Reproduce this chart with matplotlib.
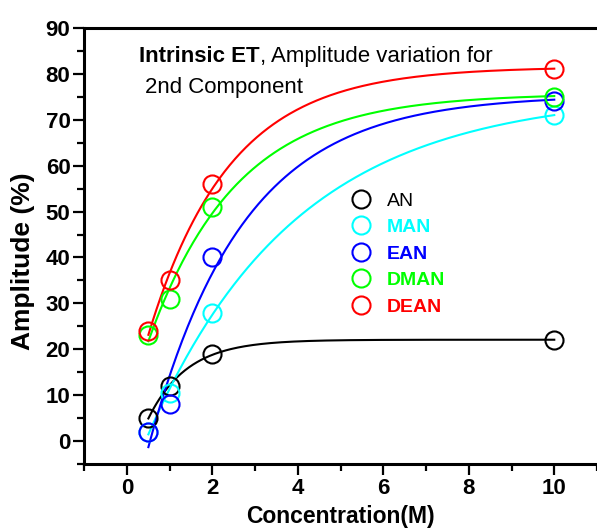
import numpy as np
import matplotlib
matplotlib.use("Agg")
import matplotlib.pyplot as plt

# data
conc = [0.5, 1, 2, 10]
amp_an = [5, 12, 19, 22]
amp_man = [2, 10.5, 28, 71]
amp_ean = [2, 8, 40, 74]
amp_dman = [23, 31, 51, 75]
amp_dean = [24, 35, 56, 81]

names = ["AN", "MAN", "EAN", "DMAN", "DEAN"]
colors = ["#000000", "#00ffff", "#0000ff", "#00ff00", "#ff0000"]
series = [amp_an, amp_man, amp_ean, amp_dman, amp_dean]


def fit_expdec(x, y):
    # y = A - B*exp(-k*x), grid over k, linear least squares for A, B
    x = np.asarray(x, float)
    y = np.asarray(y, float)
    best = None
    for k in np.linspace(0.02, 3.0, 3000):
        M = np.column_stack([np.ones_like(x), -np.exp(-k * x)])
        coef, *_ = np.linalg.lstsq(M, y, rcond=None)
        err = np.sum((M @ coef - y) ** 2)
        if best is None or err < best[0]:
            best = (err, coef[0], coef[1], k)
    _, A, B, k = best
    return lambda t: A - B * np.exp(-k * t)


plt.rcParams['font.family'] = ['Liberation Sans', 'DejaVu Sans']

W, H = 597, 530
fig = plt.figure(figsize=(W / 100, H / 100), dpi=100)
ax = fig.add_axes([84.3 / W, 1 - 464 / H, 1 - 84.3 / W, (464 - 28) / H])

xs = np.linspace(0.5, 10, 300)
for name, col, ys in zip(names, colors, series):
    f = fit_expdec(conc, ys)
    ax.plot(xs, f(xs), color=col, lw=1.5, zorder=2)
    ax.plot(conc, ys, 'o', mfc='none', mec=col, mew=1.5, ms=13, label=name, zorder=3)

ax.set_xlim(-1, 11)
ax.set_ylim(-5, 90)
ax.set_xticks([0, 2, 4, 6, 8, 10])
ax.set_xticks([-1, 1, 3, 5, 7, 9, 11], minor=True)
ax.set_yticks(range(0, 91, 10))
ax.set_yticks(range(-5, 91, 10), minor=True)

for s in ['left', 'bottom', 'top']:
    ax.spines[s].set_linewidth(2.2)
ax.spines['right'].set_visible(False)
ax.tick_params(which='major', length=8, width=1.6, labelsize=16, pad=2, direction='out')
ax.tick_params(which='minor', length=5, width=1.6, direction='out')
ax.tick_params(top=False, right=False, which='both')
for lab in ax.get_xticklabels() + ax.get_yticklabels():
    lab.set_fontweight('bold')

# axis titles placed in figure pixels
fig.text(340.6 / W, 1 - 523 / H, 'Concentration(M)', fontsize=16.5,
         fontweight='bold', ha='center', va='baseline')
fig.text(23 / W, 1 - 261.5 / H, 'Amplitude (%)', fontsize=19,
         fontweight='bold', ha='center', va='center', rotation=90)

t1 = ax.text(0.29, 82.5, 'Intrinsic ET', fontsize=16, fontweight='bold',
             va='baseline')
ax.annotate(', Amplitude variation for', xy=(1, 0), xycoords=t1, va='bottom',
            fontsize=16)
ax.text(0.41, 75.8, '2nd Component', fontsize=16, va='baseline')

leg = ax.legend(loc='upper left', bbox_to_anchor=(0.486, 0.664), frameon=False,
                handlelength=1.0, handletextpad=0.85, labelspacing=0.46,
                prop={'size': 14, 'weight': 'bold'})
for txt, col in zip(leg.get_texts(), colors):
    txt.set_color(col)
leg.get_texts()[0].set_fontweight('normal')

fig.savefig('out.png', dpi=100)
